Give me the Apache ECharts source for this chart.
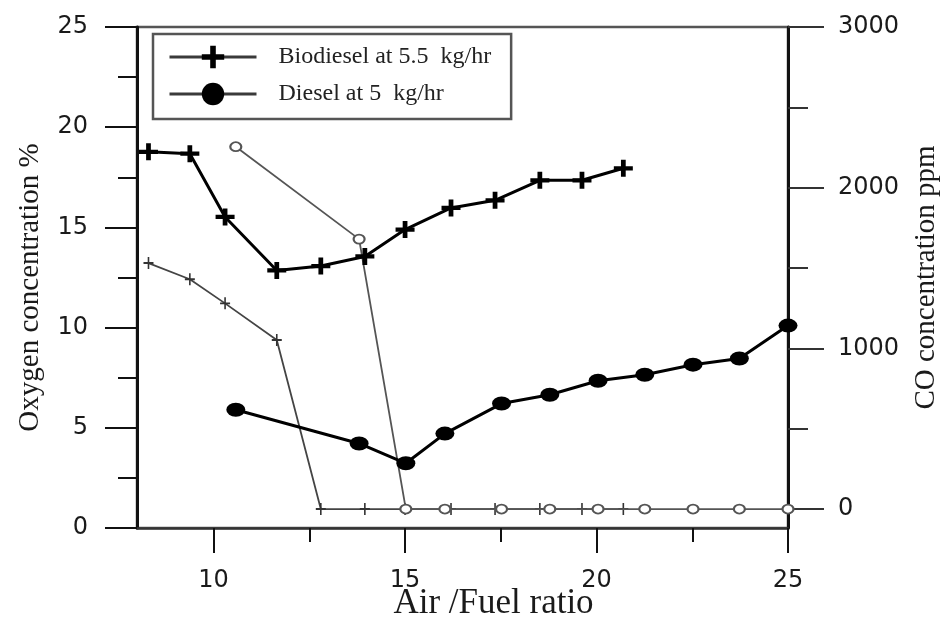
<!DOCTYPE html>
<html>
<head>
<meta charset="utf-8">
<script src="https://cdn.jsdelivr.net/npm/echarts@6/dist/echarts.min.js"></script>
<style>html,body{margin:0;padding:0;background:#fff;}#c{width:942px;height:617px;}</style>
</head>
<body>
<div id="c"></div>
<script>
// Air/Fuel ratio (x) for each fuel
var bioAFR    = [8.3, 9.38, 10.3, 11.65, 12.8, 13.95, 15.0, 16.2, 17.35, 18.52, 19.62, 20.7];
var dieselAFR = [10.58, 13.8, 15.02, 16.04, 17.52, 18.78, 20.04, 21.26, 22.52, 23.73, 25.0];
// Oxygen concentration % (left axis)
var bioO2     = [18.77, 18.68, 15.52, 12.85, 13.07, 13.55, 14.89, 15.97, 16.35, 17.35, 17.35, 17.95];
var dieselO2  = [5.9, 4.22, 3.23, 4.71, 6.21, 6.65, 7.35, 7.65, 8.15, 8.46, 10.1];
// CO concentration ppm (right axis)
var bioCO     = [1531, 1430, 1280, 1052, 0, 0, 0, 0, 0, 0, 0, 0];
var dieselCO  = [2255, 1680, 0, 0, 0, 0, 0, 0, 0, 0, 0];
// tick labels
var xTicks      = [10, 15, 20, 25];
var xMinorTicks = [12.5, 17.5, 22.5];
var coTicks      = [0, 1000, 2000, 3000];
var coMinorTicks = [500, 1500, 2500];
var legendNames = ['Biodiesel at 5.5  kg/hr', 'Diesel at 5  kg/hr'];

function zip(a, b) { return a.map(function (v, i) { return [v, b[i]]; }); }
function plain(v) { return String(v); }

var PLUS = 'path://M12,0H20V12H32V20H20V32H12V20H0V12H12Z';
var THINPLUS = 'path://M4.2,0H5.8V4.2H10V5.8H5.8V10H4.2V5.8H0V4.2H4.2Z';

var labelFont = { fontFamily: 'DejaVu Sans', fontSize: 24, color: '#1a1a1a' };

var chart = echarts.init(document.getElementById('c'), null, { renderer: 'canvas' });
chart.setOption({
  animation: false,
  backgroundColor: '#fff',
  grid: { left: 137, right: 154, top: 27, bottom: 89, containLabel: false, outerBoundsMode: 'none',
          show: true, borderColor: '#555', borderWidth: 2.5, backgroundColor: 'transparent' },
  legend: {
    data: legendNames,
    orient: 'vertical', left: 153, top: 34,
    itemWidth: 87, itemHeight: 28, itemGap: 13,
    padding: [11, 20, 13, 15],
    borderColor: '#555', borderWidth: 2.5,
    lineStyle: { width: 3, color: '#3a3a3a' },
    textStyle: { fontFamily: 'Liberation Serif', fontSize: 24, color: '#222', padding: [0, 0, 0, 17] }
  },
  xAxis: [{
    type: 'value', min: 8, max: 25, position: 'bottom',
    axisLine: { show: true, onZero: false, lineStyle: { color: '#333', width: 2.5 } },
    axisTick: { show: true, customValues: xTicks, length: 25, lineStyle: { color: '#111', width: 2 } },
    axisLabel: { customValues: xTicks, margin: 41, formatter: plain, fontFamily: labelFont.fontFamily, fontSize: labelFont.fontSize, color: labelFont.color },
    splitLine: { show: false },
    name: 'Air /Fuel ratio', nameLocation: 'middle', nameGap: 58, nameMoveOverlap: false,
    nameTextStyle: { fontFamily: 'Liberation Serif', fontSize: 35, color: '#1a1a1a', padding: [0, 0, 0, 62] }
  }, {
    type: 'value', min: 8, max: 25, position: 'bottom',
    axisLine: { show: false, onZero: false },
    axisTick: { show: true, customValues: xMinorTicks, length: 14, lineStyle: { color: '#111', width: 2 } },
    axisLabel: { show: false },
    splitLine: { show: false }
  }],
  yAxis: [{
    type: 'value', min: 0, max: 25, interval: 5, position: 'left',
    axisLine: { show: true, onZero: false, lineStyle: { color: '#111', width: 3 } },
    axisTick: { show: true, length: 32, lineStyle: { color: '#111', width: 2 } },
    minorTick: { show: true, splitNumber: 2, length: 19, lineStyle: { color: '#111', width: 2 } },
    axisLabel: { margin: 49, formatter: plain, fontFamily: labelFont.fontFamily, fontSize: labelFont.fontSize, color: labelFont.color },
    splitLine: { show: false },
    name: 'Oxygen concentration %', nameLocation: 'middle', nameRotate: 90, nameGap: 92, nameMoveOverlap: false,
    nameTextStyle: { fontFamily: 'Liberation Serif', fontSize: 29, color: '#1a1a1a', padding: [0, 20, 0, 0] }
  }, {
    type: 'value', min: -118, max: 3000, position: 'right',
    axisLine: { show: true, onZero: false, lineStyle: { color: '#111', width: 3 } },
    axisTick: { show: true, customValues: coTicks, length: 36, lineStyle: { color: '#333', width: 2 } },
    axisLabel: { customValues: coTicks, margin: 50, formatter: plain, fontFamily: labelFont.fontFamily, fontSize: labelFont.fontSize, color: labelFont.color },
    splitLine: { show: false },
    name: 'CO concentration ppm', nameLocation: 'middle', nameRotate: 90, nameGap: 124, nameMoveOverlap: false,
    nameTextStyle: { fontFamily: 'Liberation Serif', fontSize: 29, color: '#1a1a1a' }
  }, {
    type: 'value', min: -118, max: 3000, position: 'right',
    axisLine: { show: false, onZero: false },
    axisTick: { show: true, customValues: coMinorTicks, length: 20, lineStyle: { color: '#333', width: 2 } },
    axisLabel: { show: false },
    splitLine: { show: false }
  }],
  series: [{
    name: 'Biodiesel CO', type: 'line', xAxisIndex: 0, yAxisIndex: 1,
    data: zip(bioAFR, bioCO),
    symbol: THINPLUS, symbolSize: [10, 12],
    lineStyle: { color: '#444', width: 1.8 },
    itemStyle: { color: '#333' }, z: 2
  }, {
    name: 'Diesel CO', type: 'line', xAxisIndex: 0, yAxisIndex: 1,
    data: zip(dieselAFR, dieselCO),
    symbol: 'emptyCircle', symbolSize: [11, 9],
    lineStyle: { color: '#555', width: 1.8 },
    itemStyle: { color: '#555', borderWidth: 1.6 }, z: 3
  }, {
    name: legendNames[0], type: 'line', xAxisIndex: 0, yAxisIndex: 0,
    data: zip(bioAFR, bioO2),
    symbol: PLUS, symbolSize: [19, 17],
    lineStyle: { color: '#000', width: 3 },
    itemStyle: { color: '#000' }, z: 4
  }, {
    name: legendNames[1], type: 'line', xAxisIndex: 0, yAxisIndex: 0,
    data: zip(dieselAFR, dieselO2),
    symbol: 'circle', symbolSize: [19, 14],
    lineStyle: { color: '#000', width: 3 },
    itemStyle: { color: '#000' }, z: 4
  }]
});
</script>
</body>
</html>
